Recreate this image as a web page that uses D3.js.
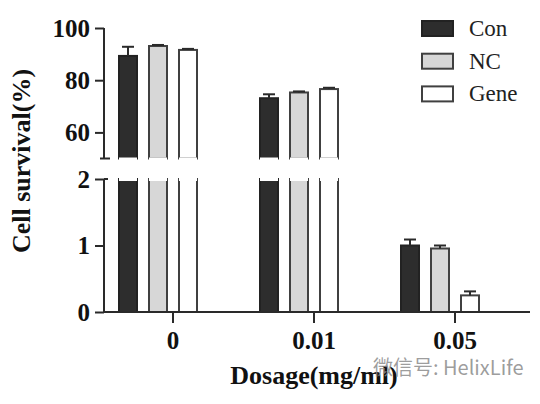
<!DOCTYPE html>
<html><head><meta charset="utf-8">
<script src="https://cdn.jsdelivr.net/npm/d3@7"></script>
<style>body{margin:0;background:#fff}svg{display:block}</style>
</head><body>
<svg id="c" width="540" height="404"></svg>
<script>
const categories = ["0", "0.01", "0.05"];
const series = ["Con", "NC", "Gene"];
const conValues = [89.3, 73.1, 1.00];
const ncValues = [93.1, 75.3, 0.955];
const geneValues = [91.6, 76.6, 0.25];
const conErr = [3.5, 1.5, 0.09];
const ncErr = [0.4, 0.4, 0.045];
const geneErr = [0.4, 0.5, 0.06];
const upperTicks = [60, 80, 100];
const lowerTicks = [0, 1, 2];

const fills = {Con: "#2d2d2d", NC: "#d7d7d7", Gene: "#ffffff"};
const strokes = {Con: "#222", NC: "#404040", Gene: "#404040"};
const valuesBy = {Con: conValues, NC: ncValues, Gene: geneValues};
const errBy = {Con: conErr, NC: ncErr, Gene: geneErr};

const svg = d3.select("#c");
const serif = "'Liberation Serif','Times New Roman',serif";
const ink = "#2a2a2a";

const x0 = d3.scaleBand().domain(categories).range([87.5, 510.5]);
const x1 = d3.scaleBand().domain(series).range([-45, 45]).paddingInner(1/3).paddingOuter(1/6);
const yU = d3.scaleLinear().domain([50, 100]).range([158.5, 28]);
const yL = d3.scaleLinear().domain([0, 2]).range([312, 179]);
const axisX = 104;

// bars
const data = [];
categories.forEach((c, i) => series.forEach(s => data.push({c, s, v: valuesBy[s][i], e: errBy[s][i]})));
const g = svg.append("g");
function errorBar(cx, y0, y1) {
  g.append("line").attr("x1", cx).attr("x2", cx).attr("y1", y0).attr("y2", y1).attr("stroke", ink).attr("stroke-width", 2);
  g.append("line").attr("x1", cx - 6).attr("x2", cx + 6).attr("y1", y1).attr("y2", y1).attr("stroke", ink).attr("stroke-width", 2);
}
data.forEach(d => {
  const bx = x0(d.c) + x0.bandwidth() / 2 + x1(d.s);
  const w = x1.bandwidth();
  const st = {fill: fills[d.s], stroke: strokes[d.s]};
  const cx = bx + w / 2;
  if (d.v > yL.domain()[1]) {
    g.append("rect").attr("x", bx + 1).attr("y", yL(2)).attr("width", w - 2).attr("height", yL(0) - yL(2))
      .attr("fill", st.fill).attr("stroke", st.stroke).attr("stroke-width", 2);
    g.append("rect").attr("x", bx + 1).attr("y", yL(2) - 1).attr("width", w - 2).attr("height", 3)
      .attr("fill", "#fff").attr("stroke", "none");
    g.append("rect").attr("x", bx + 1).attr("y", yU(d.v)).attr("width", w - 2).attr("height", yU(50) - yU(d.v))
      .attr("fill", st.fill).attr("stroke", st.stroke).attr("stroke-width", 2);
    g.append("rect").attr("x", bx + 1).attr("y", yU(50) - 1).attr("width", w - 2).attr("height", 3)
      .attr("fill", "#fff").attr("stroke", "none");
    errorBar(cx, yU(d.v), yU(d.v + d.e));
  } else {
    g.append("rect").attr("x", bx + 1).attr("y", yL(d.v)).attr("width", w - 2).attr("height", yL(0) - yL(d.v))
      .attr("fill", st.fill).attr("stroke", st.stroke).attr("stroke-width", 2);
    errorBar(cx, yL(d.v), yL(d.v + d.e));
  }
});

function styleAxis(sel) {
  sel.selectAll("path.domain").remove();
  sel.selectAll("line").attr("stroke", ink).attr("stroke-width", 2);
  sel.selectAll("text").attr("font-family", serif).attr("font-weight", "bold").attr("font-size", 25).attr("fill", "#111");
}

const gU = svg.append("g").attr("transform", `translate(${axisX},0)`)
  .call(d3.axisLeft(yU).tickValues(upperTicks).tickSize(9).tickPadding(5).tickFormat(d3.format("d")));
styleAxis(gU);
gU.append("line").attr("x1", 0).attr("x2", 0).attr("y1", yU(100)).attr("y2", yU(50)).attr("stroke", ink).attr("stroke-width", 2);
gU.append("line").attr("x1", -4).attr("x2", 6).attr("y1", yU(50)).attr("y2", yU(50)).attr("stroke", ink).attr("stroke-width", 2);

const gL = svg.append("g").attr("transform", `translate(${axisX},0)`)
  .call(d3.axisLeft(yL).tickValues(lowerTicks).tickSize(9).tickPadding(5).tickFormat(d3.format("d")));
styleAxis(gL);
gL.append("line").attr("x1", 0).attr("x2", 0).attr("y1", yL(2)).attr("y2", yL(0)).attr("stroke", ink).attr("stroke-width", 2);
gL.append("line").attr("x1", 0).attr("x2", 4).attr("y1", yL(2)).attr("y2", yL(2)).attr("stroke", ink).attr("stroke-width", 2);

svg.append("line").attr("x1", axisX - 1).attr("x2", 530).attr("y1", yL(0)).attr("y2", yL(0)).attr("stroke", ink).attr("stroke-width", 2);
const gX = svg.append("g").attr("transform", `translate(15,${yL(0)})`)
  .call(d3.axisBottom(x0).tickSize(11).tickPadding(8));
styleAxis(gX);

svg.append("text").attr("transform", "translate(30,161) rotate(-90)").attr("text-anchor", "middle")
  .attr("font-family", serif).attr("font-weight", "bold").attr("font-size", 26).attr("fill", "#111")
  .text("Cell survival(%)");
svg.append("text").attr("x", 314).attr("y", 384).attr("text-anchor", "middle")
  .attr("font-family", serif).attr("font-weight", "bold").attr("font-size", 26).attr("fill", "#111")
  .text("Dosage(mg/ml)");

const lg = svg.append("g");
series.forEach((s, i) => {
  const y = 21 + i * 32.7;
  lg.append("rect").attr("x", 422).attr("y", y).attr("width", 31).attr("height", 15)
    .attr("fill", fills[s]).attr("stroke", strokes[s]).attr("stroke-width", 2);
  lg.append("text").attr("x", 469).attr("y", y + 15).attr("font-family", serif).attr("font-size", 23).attr("fill", "#222").text(s);
});

svg.append("text").attr("x", 373).attr("y", 375).attr("font-family", "'Noto Sans CJK SC','Noto Sans',sans-serif")
  .attr("font-size", 20).attr("fill", "#8c8c8c").attr("fill-opacity", 0.85).text("微信号: HelixLife");
</script>
</body></html>
